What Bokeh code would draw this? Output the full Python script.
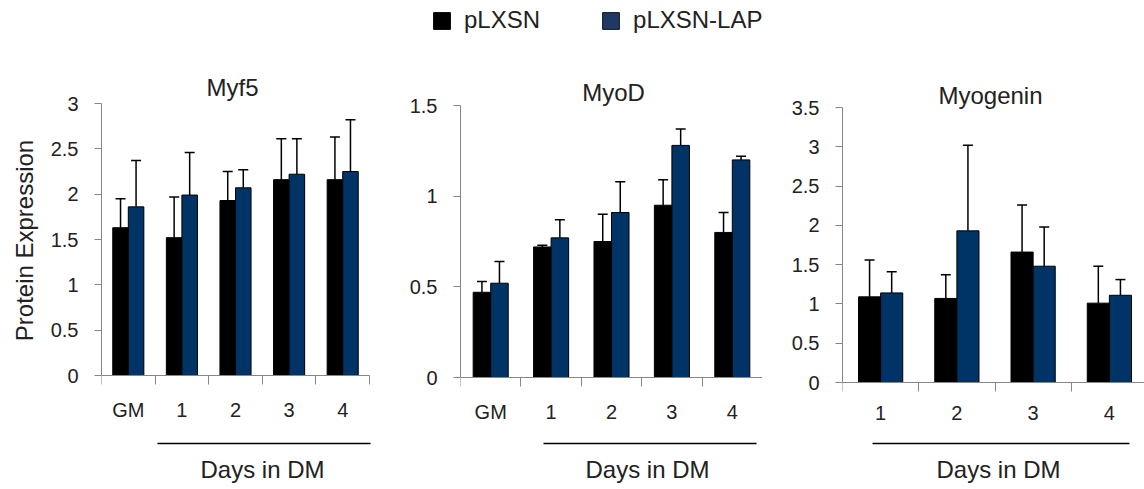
import math
import numpy as np
from bokeh.plotting import figure
from bokeh.layouts import column, row
from bokeh.models import (ColumnDataSource, Range1d, FixedTicker, Whisker, TeeHead,
                          Label, Legend, LegendItem, NumeralTickFormatter)
from bokeh.core.properties import value
from bokeh.embed import file_html
from bokeh.resources import INLINE

# ---- data -------------------------------------------------------------
series_names = ["pLXSN", "pLXSN-LAP"]

myf5_days = ["GM", "1", "2", "3", "4"]
myf5_plxsn = [1.63, 1.52, 1.93, 2.16, 2.16]
myf5_plxsn_err = [0.32, 0.45, 0.32, 0.45, 0.47]
myf5_lap = [1.86, 1.99, 2.07, 2.22, 2.25]
myf5_lap_err = [0.51, 0.47, 0.20, 0.39, 0.57]
myf5_yticks = [0, 0.5, 1, 1.5, 2, 2.5, 3]

myod_days = ["GM", "1", "2", "3", "4"]
myod_plxsn = [0.47, 0.72, 0.75, 0.95, 0.80]
myod_plxsn_err = [0.06, 0.01, 0.15, 0.14, 0.11]
myod_lap = [0.52, 0.77, 0.91, 1.28, 1.20]
myod_lap_err = [0.12, 0.10, 0.17, 0.09, 0.02]
myod_yticks = [0, 0.5, 1, 1.5]

myog_days = ["1", "2", "3", "4"]
myog_plxsn = [1.09, 1.07, 1.66, 1.01]
myog_plxsn_err = [0.47, 0.30, 0.60, 0.47]
myog_lap = [1.14, 1.93, 1.48, 1.11]
myog_lap_err = [0.27, 1.09, 0.50, 0.20]
myog_yticks = [0, 0.5, 1, 1.5, 2, 2.5, 3, 3.5]

# ---- style ------------------------------------------------------------
FONT = "Liberation Sans"
TEXT = "#222222"
AXIS = "#868686"
BLACK = "#000000"
NAVY = "#003366"
LEGEND_NAVY = "#1f3864"
BAR_W = 0.29
ROW_TOP = 45      # page y where the row of panels begins
ROW_H = 444
LABEL_W = 40      # strip holding the shared y-axis title

# page-pixel layout of each panel
layouts = {
    "Myf5": dict(fig_left=LABEL_W, width=380 - LABEL_W, frame_left=101, x_last=369,
                 ytop=103, y0=375, title=(232, 87), days=(262, 469), line=(157, 370, 443)),
    "MyoD": dict(fig_left=380, width=382, frame_left=460, x_last=762, ytop=105, y0=377,
                 title=(613, 92), days=(647, 469), line=(543, 756, 443)),
    "Myogenin": dict(fig_left=762, width=382, frame_left=842, x_last=1147, ytop=107, y0=382,
                     title=(990, 95), days=(998, 469), line=(872, 1129, 443)),
}


def make_panel(title, cats, v1, e1, v2, e2, yticks, g):
    n = len(cats)
    sx = (g["x_last"] - g["frame_left"]) / n
    sy = (g["y0"] - g["ytop"]) / yticks[-1]

    def dx(px):
        return (px - g["frame_left"]) / sx

    def dy(py):
        return (g["y0"] - py) / sy

    x_end = dx(g["fig_left"] + g["width"])
    y_start = dy(ROW_TOP + ROW_H)
    y_end = dy(ROW_TOP)

    p = figure(width=g["width"], height=ROW_H,
               x_range=Range1d(0, x_end), y_range=Range1d(y_start, y_end),
               output_backend="svg", toolbar_location=None,
               min_border=0, min_border_left=g["frame_left"] - g["fig_left"],
               outline_line_color=None, background_fill_color="white")
    p.grid.visible = False

    centers = np.arange(n) + 0.5
    s1 = ColumnDataSource(dict(x=centers - BAR_W / 2, top=v1,
                               upper=np.array(v1) + np.array(e1)))
    s2 = ColumnDataSource(dict(x=centers + BAR_W / 2, top=v2,
                               upper=np.array(v2) + np.array(e2)))
    p.vbar(x="x", top="top", width=BAR_W, source=s1,
           fill_color=BLACK, line_color=BLACK, line_width=1)
    p.vbar(x="x", top="top", width=BAR_W, source=s2,
           fill_color=NAVY, line_color=BLACK, line_width=1)
    for s in (s1, s2):
        w = Whisker(source=s, base="x", lower="top", upper="upper", dimension="height",
                    line_color=BLACK, line_width=1.5, level="overlay",
                    upper_head=TeeHead(size=10, line_color=BLACK, line_width=1.5),
                    lower_head=None)
        p.add_layout(w)

    # y axis
    ya = p.yaxis[0]
    ya.ticker = FixedTicker(ticks=yticks, minor_ticks=[])
    ya.formatter = NumeralTickFormatter(format="0.[0]")
    ya.bounds = (0, yticks[-1])
    ya.axis_line_color = AXIS
    ya.major_tick_line_color = AXIS
    ya.major_tick_out = 7
    ya.major_tick_in = 0
    ya.major_label_standoff = 16
    ya.major_label_text_font = FONT
    ya.major_label_text_font_size = "20px"
    ya.major_label_text_color = TEXT

    # x axis sits on y = 0; ticks mark the category boundaries
    xa = p.xaxis[0]
    xa.fixed_location = 0
    xa.ticker = FixedTicker(ticks=list(centers), minor_ticks=list(range(n + 1)))
    xa.major_label_overrides = {float(c): lab for c, lab in zip(centers, cats)}
    xa.bounds = (0, n)
    xa.axis_line_color = AXIS
    xa.major_tick_line_color = None
    xa.major_tick_out = 0
    xa.major_tick_in = 0
    xa.minor_tick_line_color = AXIS
    xa.minor_tick_out = 9
    xa.minor_tick_in = 0
    xa.major_label_standoff = 14
    xa.major_label_text_font = FONT
    xa.major_label_text_font_size = "20px"
    xa.major_label_text_color = TEXT

    tx, ty = g["title"]
    p.add_layout(Label(x=dx(tx), y=dy(ty), text=title, text_align="center",
                       text_baseline="alphabetic", text_font=FONT,
                       text_font_size="24px", text_color=TEXT))

    x0, x1, ly = g["line"]
    p.segment(x0=[dx(x0)], y0=[dy(ly)], x1=[dx(x1)], y1=[dy(ly)],
              line_color=BLACK, line_width=1.6)
    ddx, ddy = g["days"]
    p.add_layout(Label(x=dx(ddx), y=dy(ddy), text="Days in DM", text_align="center",
                       text_baseline="alphabetic", text_font=FONT,
                       text_font_size="24px", text_color=TEXT))
    return p


p1 = make_panel("Myf5", myf5_days, myf5_plxsn, myf5_plxsn_err, myf5_lap, myf5_lap_err,
                myf5_yticks, layouts["Myf5"])
p2 = make_panel("MyoD", myod_days, myod_plxsn, myod_plxsn_err, myod_lap, myod_lap_err,
                myod_yticks, layouts["MyoD"])
p3 = make_panel("Myogenin", myog_days, myog_plxsn, myog_plxsn_err, myog_lap, myog_lap_err,
                myog_yticks, layouts["Myogenin"])

# narrow strip carrying the shared y-axis title
ylab = figure(width=LABEL_W, height=ROW_H, x_range=Range1d(0, LABEL_W),
              y_range=Range1d(0, ROW_H), output_backend="svg", toolbar_location=None,
              min_border=0, outline_line_color=None)
ylab.axis.visible = False
ylab.grid.visible = False
ylab.text(x=[24], y=[ROW_H - (240 - ROW_TOP)], text=["Protein Expression"],
          angle=math.pi / 2, text_align="center", text_baseline="middle",
          text_font=value(FONT), text_font_size="24px", text_color=TEXT)

# shared legend strip across the top; the swatch renderers sit off-canvas
leg = figure(width=1144, height=ROW_TOP, x_range=Range1d(0, 1), y_range=Range1d(0, 1),
             output_backend="svg", toolbar_location=None, min_border=0,
             outline_line_color=None)
leg.axis.visible = False
leg.grid.visible = False
r1 = leg.vbar(x=[-10], top=[0], width=1, fill_color=BLACK, line_color=BLACK)
r2 = leg.vbar(x=[-10], top=[0], width=1, fill_color=LEGEND_NAVY, line_color="#141414")
legend = Legend(items=[LegendItem(label=series_names[0], renderers=[r1]),
                       LegendItem(label=series_names[1], renderers=[r2])],
                orientation="horizontal", location=(431, 11),
                glyph_width=21, glyph_height=21, label_height=22,
                label_text_font=FONT, label_text_font_size="24px",
                label_text_color=TEXT, label_standoff=12, spacing=60,
                padding=0, margin=0, border_line_color=None,
                background_fill_alpha=0)
leg.add_layout(legend)

layout = column(leg, row(ylab, p1, p2, p3, spacing=0), spacing=0)
open("out.html", "w").write(file_html(layout, INLINE))
